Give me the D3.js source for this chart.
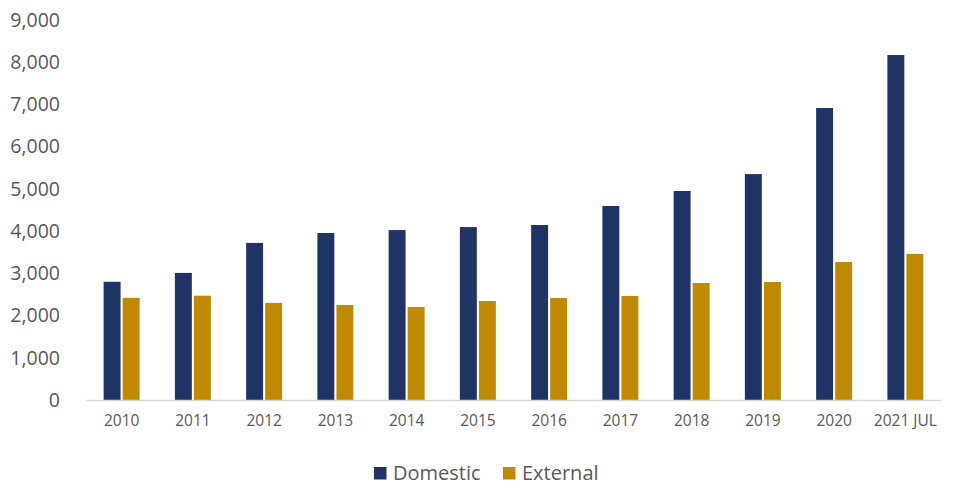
<!DOCTYPE html>
<html>
<head>
<meta charset="utf-8">
<script src="https://cdn.jsdelivr.net/npm/d3@7"></script>
<style>
  body { margin: 0; background: #fff; }
  svg { display: block; font-family: "Open Sans", sans-serif; }
</style>
</head>
<body>
<svg id="chart" width="959" height="501"></svg>
<script>
// data
const years = ["2010", "2011", "2012", "2013", "2014", "2015", "2016", "2017", "2018", "2019", "2020", "2021 JUL"];
const domestic = [2800, 3010, 3720, 3955, 4025, 4095, 4145, 4595, 4950, 5350, 6915, 8170];
const external = [2420, 2470, 2300, 2250, 2205, 2345, 2415, 2465, 2770, 2795, 3270, 3460];
const seriesNames = ["Domestic", "External"];
const yTicks = [0, 1000, 2000, 3000, 4000, 5000, 6000, 7000, 8000, 9000];

const colors = { Domestic: "#1F3465", External: "#BF8900" };

const width = 959, height = 501;
const margin = { top: 20, right: 18, bottom: 101, left: 86 };

const svg = d3.select("svg#chart");

// flatten into one row per bar
const rows = years.map((y, i) => ({ year: y, Domestic: domestic[i], External: external[i] }));

const x = d3.scaleBand()
    .domain(years)
    .range([margin.left, width - margin.right])
    .paddingInner(0.495)
    .paddingOuter(0.2475);

const xInner = d3.scaleBand()
    .domain(seriesNames)
    .range([0, x.bandwidth()])
    .paddingInner(0.11);

const yScale = d3.scaleLinear()
    .domain([0, 9000])
    .range([height - margin.bottom, margin.top]);

// y axis labels (no axis line, no ticks)
svg.append("g")
    .attr("transform", `translate(${margin.left - 23},0)`)
    .call(d3.axisLeft(yScale).tickValues(yTicks).tickFormat(d3.format(",")).tickSize(0))
    .call(g => g.select(".domain").remove())
    .selectAll("text")
    .attr("font-size", 19.5)
    .attr("font-family", "Open Sans, sans-serif")
    .attr("fill", "#595959");

// bars
svg.append("g").selectAll("g").data(rows)
    .join("g")
    .attr("transform", d => `translate(${x(d.year)},0)`)
    .selectAll("rect")
    .data(d => seriesNames.map(k => ({ key: k, value: d[k] })))
    .join("rect")
    .attr("x", d => xInner(d.key))
    .attr("width", xInner.bandwidth())
    .attr("y", d => yScale(d.value))
    .attr("height", d => yScale(0) - yScale(d.value))
    .attr("fill", d => colors[d.key]);

// x axis
svg.append("g")
    .attr("transform", `translate(0,${height - margin.bottom})`)
    .call(d3.axisBottom(x).tickSize(0).tickSizeOuter(0))
    .call(g => g.select(".domain").attr("stroke", "#D9D9D9").attr("stroke-width", 1.5))
    .selectAll("text")
    .attr("dy", "1.5em")
    .attr("font-size", 15.5)
    .attr("font-family", "Open Sans, sans-serif")
    .attr("fill", "#595959");

// legend
const legendX = [374, 503];
const legend = svg.append("g").selectAll("g").data(seriesNames)
    .join("g")
    .attr("transform", (d, i) => `translate(${legendX[i]},467)`);
legend.append("rect")
    .attr("width", 12.5)
    .attr("height", 12.5)
    .attr("fill", d => colors[d]);
legend.append("text")
    .attr("x", 19)
    .attr("y", 12.8)
    .attr("font-size", 20)
    .attr("fill", "#595959")
    .text(d => d);
</script>
</body>
</html>
